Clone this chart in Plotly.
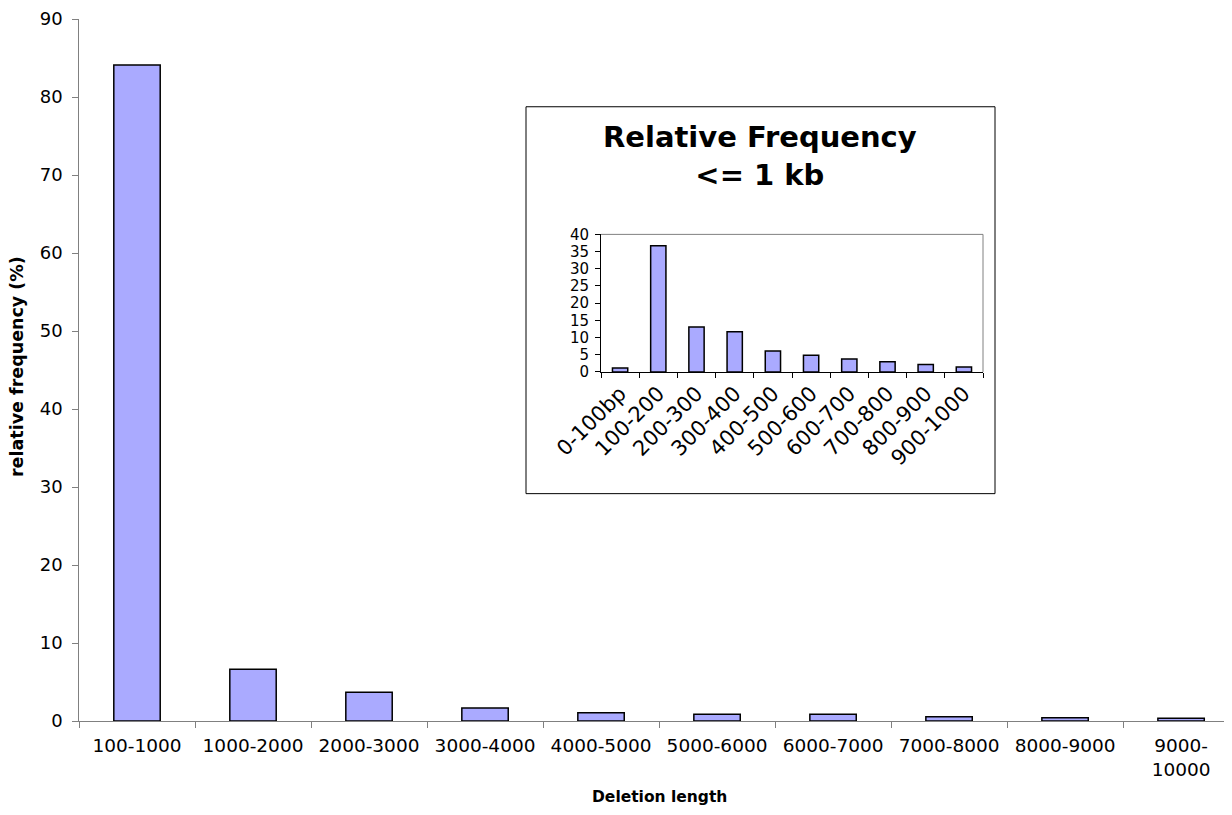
import plotly.graph_objects as go

# Main chart data
main_categories = ["100-1000", "1000-2000", "2000-3000", "3000-4000", "4000-5000",
                   "5000-6000", "6000-7000", "7000-8000", "8000-9000", "9000-10000"]
main_tick_labels = ["100-1000", "1000-2000", "2000-3000", "3000-4000", "4000-5000",
                    "5000-6000", "6000-7000", "7000-8000", "8000-9000", "9000-<br>10000"]
main_values = [84.1, 6.65, 3.67, 1.66, 1.07, 0.86, 0.86, 0.55, 0.43, 0.34]

# Inset data
inset_categories = ["0-100bp", "100-200", "200-300", "300-400", "400-500",
                    "500-600", "600-700", "700-800", "800-900", "900-1000"]
inset_values = [1.17, 36.7, 13.1, 11.7, 6.1, 4.85, 3.8, 3.0, 2.2, 1.45]

FONT = "DejaVu Sans"
BAR_FILL = "#AAAAFF"
AX = "#808080"

OFF = 8  # page body margin
W, H = 1216, 799
L, T = 79 - OFF, 17 - OFF
PLOT_BOTTOM = 721 - OFF
B = H - PLOT_BOTTOM
R = 0
pw, ph = W - L - R, H - T - B


def px(x):  # window x -> paper
    return (x - OFF - L) / pw


def py(y):  # window y -> paper
    return (PLOT_BOTTOM - (y - OFF)) / ph


fig = go.Figure()
fig.add_trace(go.Bar(x=main_categories, y=main_values, width=0.4,
                     marker=dict(color=BAR_FILL, line=dict(color="black", width=1.5)),
                     xaxis="x", yaxis="y", showlegend=False))
fig.add_trace(go.Bar(x=inset_categories, y=inset_values, width=0.4,
                     marker=dict(color=BAR_FILL, line=dict(color="black", width=1.5)),
                     xaxis="x2", yaxis="y2", showlegend=False))

fig.update_layout(
    width=W, height=H,
    margin=dict(l=L, r=R, t=T, b=B),
    paper_bgcolor="white", plot_bgcolor="white",
    font=dict(family=FONT, color="black"),
    xaxis=dict(domain=[0, 1], range=[-0.5, 9.37], type="category",
               tickmode="array", tickvals=main_categories, ticktext=main_tick_labels,
               tickson="boundaries", ticks="outside", ticklen=6, tickcolor=AX,
               showline=True, linecolor=AX, linewidth=1, showgrid=False,
               ticklabelstandoff=8,
               tickfont=dict(size=18.5, family=FONT), zeroline=False),
    yaxis=dict(domain=[0, 1], range=[0, 90], dtick=10, ticks="outside", ticklen=6,
               tickcolor=AX, showline=True, linecolor=AX, linewidth=1,
               ticksuffix=" ", ticklabeloverflow="allow",
               showgrid=False, zeroline=False, tickfont=dict(size=18, family=FONT)),
    xaxis2=dict(domain=[px(601), px(983)], anchor="y2", type="category",
                range=[-0.5, 9.5], tickson="boundaries", ticks="outside", ticklen=5,
                tickcolor="black", showline=True, linecolor="black", linewidth=1,
                showgrid=False, tickangle=-45, tickfont=dict(size=21, family=FONT),
                zeroline=False),
    yaxis2=dict(domain=[py(371), py(233)], anchor="x2", range=[0, 40], dtick=5,
                ticks="outside", ticklen=5, tickcolor="black", showline=True,
                linecolor="black", linewidth=1, showgrid=False, zeroline=False,
                ticklabelstandoff=3,
                tickfont=dict(size=15, family=FONT)),
)

# inset frame
fig.add_shape(type="rect", xref="paper", yref="paper",
              x0=px(526), x1=px(995), y0=py(493), y1=py(105),
              line=dict(color="black", width=1), fillcolor="rgba(0,0,0,0)", layer="below")
# inset plot area top & right border (grey)
fig.add_shape(type="line", xref="x2 domain", yref="y2 domain", x0=0, x1=1, y0=1, y1=1,
              line=dict(color=AX, width=1))
fig.add_shape(type="line", xref="x2 domain", yref="y2 domain", x0=1, x1=1, y0=0, y1=1,
              line=dict(color=AX, width=1))

# inset title
fig.add_annotation(text="<b>Relative Frequency<br><= 1 kb</b>", xref="paper", yref="paper",
                   x=px(760), y=py(154.5), showarrow=False, xanchor="center", yanchor="middle",
                   font=dict(size=29, family=FONT, color="black"))
# axis titles
fig.add_annotation(text="<b>relative frequency (%)</b>", xref="paper", yref="paper",
                   x=px(17), y=py(366), textangle=-90, showarrow=False,
                   xanchor="center", yanchor="middle",
                   font=dict(size=17.5, family=FONT, color="black"))
fig.add_annotation(text="<b>Deletion length</b>", xref="paper", yref="paper",
                   x=px(659), y=py(797), showarrow=False,
                   xanchor="center", yanchor="middle",
                   font=dict(size=15.5, family=FONT, color="black"))

fig.write_html("out.html")
